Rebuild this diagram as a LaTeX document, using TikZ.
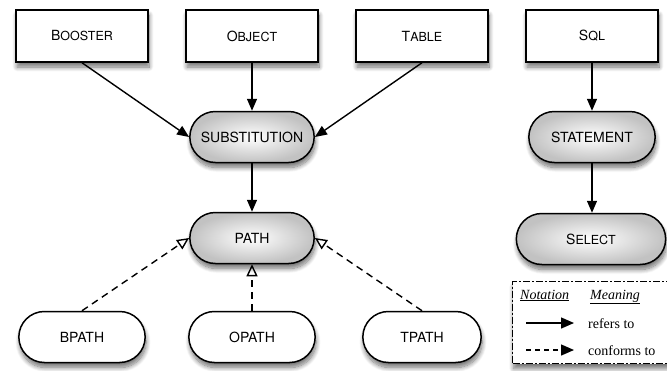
\documentclass[tikz,border=0pt]{standalone}
\usepackage{fontspec}
\setmainfont{TeX Gyre Heros}
\newfontfamily\legendfont{Liberation Serif}
\usetikzlibrary{arrows.meta,shapes.misc,shadows.blur}

% fake small capitals: large initial, smaller remainder
\newcommand\capsc[2]{{\fontsize{14}{16}\selectfont #1}{\fontsize{12.5}{15}\selectfont #2}}

\tikzset{
  every node/.style={font=\fontsize{14}{16}\selectfont},
  shadowed/.style={blur shadow={shadow xshift=1pt, shadow yshift=-5pt,
      shadow blur radius=4.5pt, shadow blur steps=10, shadow opacity=55}},
  srcbox/.style={draw, rectangle, fill=white, minimum width=132pt,
      minimum height=52pt, line width=1.5pt, shadowed},
  pill/.style={draw, rounded rectangle, minimum width=131pt,
      minimum height=51pt, line width=1.5pt, shadowed},
  shaded pill/.style={pill, inner color=white, outer color=gray!48},
  plain pill/.style={pill, fill=white},
  refers/.style={line width=1.4pt, -{Triangle[length=12pt,width=10pt]}},
  conforms/.style={line width=1.4pt, dash pattern=on 7pt off 5pt,
      -{Triangle[open,length=12pt,width=11pt,line width=1.4pt]}},
  legendtext/.style={font=\legendfont\fontsize{14}{16}\selectfont, anchor=base west, inner sep=0pt},
}

\begin{document}
\begin{tikzpicture}[x=1pt,y=-1pt]
  \useasboundingbox (0,0) rectangle (667,370);

  % source boxes
  \node[srcbox] (booster) at (82,36)  {\capsc{B}{OOSTER}};
  \node[srcbox] (object)  at (252,36) {\capsc{O}{BJECT}};
  \node[srcbox] (table)   at (422,36) {\capsc{T}{ABLE}};
  \node[srcbox] (sql)     at (592,36) {\capsc{S}{QL}};

  % shaded intermediate nodes
  \node[shaded pill] (subst) at (252,137) {SUBSTITUTION};
  \node[shaded pill] (path)  at (252,238) {PATH};
  \node[shaded pill, minimum width=133pt] (stmt) at (592,137) {STATEMENT};
  \node[shaded pill, minimum width=156pt] (select) at (591,239) {\capsc{S}{ELECT}};

  % concrete paths
  \node[plain pill, minimum width=133pt] (bpath) at (82,337)  {BPATH};
  \node[plain pill, minimum width=133pt] (opath) at (252,337) {OPATH};
  \node[plain pill, minimum width=125pt] (tpath) at (422,337) {TPATH};

  % references
  \draw[refers] (booster.south) -- (subst.west);
  \draw[refers] (object.south)  -- (subst.north);
  \draw[refers] (table.south)   -- (subst.east);
  \draw[refers] (subst.south)   -- (path.north);
  \draw[refers] (sql.south)     -- (stmt.north);
  \draw[refers] (stmt.south)    -- (select.north -| stmt.south);

  % conformance
  \draw[conforms] (bpath.north) -- (path.west);
  \draw[conforms] (opath.north) -- (path.south);
  \draw[conforms] (tpath.north) -- (path.east);

  % legend
  \node[draw, fill=white, line width=1.4pt, dash pattern=on 7pt off 2pt on 2pt off 2pt,
        minimum width=156pt, minimum height=82pt, inner sep=0pt, shadowed,
        anchor=north west] (legend) at (512,281) {};
  \node[legendtext] (nota) at (520,299) {\underline{\itshape Notation}};
  \node[legendtext] (mean) at (590,299) {\underline{\itshape Meaning}};
  \coordinate (ra) at (526,323);
  \coordinate (rb) at (574,323);
  \coordinate (ca) at (526,350);
  \coordinate (cb) at (574,350);
  \draw[line width=1.4pt, -{Triangle[length=13pt,width=11pt]}] (ra) -- (rb);
  \draw[line width=1.4pt, dash pattern=on 5pt off 4pt, -{Triangle[length=13pt,width=11pt]}] (ca) -- (cb);
  \node[legendtext] (reft) at (588,328) {refers to};
  \node[legendtext] (cont) at (588,355) {conforms to};
\end{tikzpicture}
\end{document}
